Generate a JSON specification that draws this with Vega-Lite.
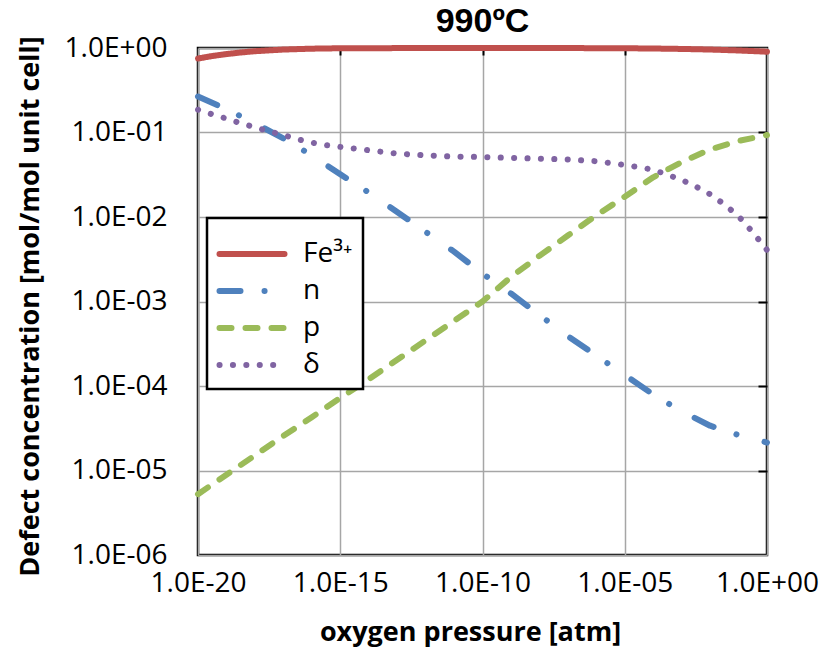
{
  "$schema": "https://vega.github.io/schema/vega-lite/v6.json",
  "width": 569,
  "height": 507,
  "autosize": {"type": "none"},
  "padding": {"left": 198, "top": 48, "right": 58, "bottom": 95},
  "background": "white",
  "title": {"text": "990ºC", "fontSize": 34, "font": "Liberation Sans", "fontWeight": "bold", "color": "black", "anchor": "middle", "baseline": "top", "offset": 0, "dy": 5},
  "config": {
    "font": "Open Sans",
    "view": {"stroke": "black", "strokeWidth": 2.5},
    "axis": {
      "labelFont": "Open Sans", "labelFontSize": 28, "labelColor": "black",
      "titleFont": "Open Sans", "titleFontSize": 27, "titleFontWeight": "bold", "titleColor": "black",
      "gridColor": "#a6a6a6", "gridWidth": 1.5, "domain": false, "ticks": false
    }
  },
  "data": {"values": [
    {"s": "Fe³⁺", "x": 1e-20, "y": 0.750},
    {"s": "Fe³⁺", "x": 3.16e-20, "y": 0.804},
    {"s": "Fe³⁺", "x": 1e-19, "y": 0.847},
    {"s": "Fe³⁺", "x": 3.16e-19, "y": 0.885},
    {"s": "Fe³⁺", "x": 1e-18, "y": 0.916},
    {"s": "Fe³⁺", "x": 1e-17, "y": 0.959},
    {"s": "Fe³⁺", "x": 1e-16, "y": 0.982},
    {"s": "Fe³⁺", "x": 1e-15, "y": 0.993},
    {"s": "Fe³⁺", "x": 1e-12, "y": 0.999},
    {"s": "Fe³⁺", "x": 1e-10, "y": 0.999},
    {"s": "Fe³⁺", "x": 1e-7, "y": 0.998},
    {"s": "Fe³⁺", "x": 1e-5, "y": 0.993},
    {"s": "Fe³⁺", "x": 1e-4, "y": 0.986},
    {"s": "Fe³⁺", "x": 1e-3, "y": 0.975},
    {"s": "Fe³⁺", "x": 1e-2, "y": 0.959},
    {"s": "Fe³⁺", "x": 1e-1, "y": 0.935},
    {"s": "Fe³⁺", "x": 1, "y": 0.904},

    {"s": "n", "x": 1e-20, "y": 0.2667},
    {"s": "n", "x": 1e-19, "y": 0.1888},
    {"s": "n", "x": 1e-18, "y": 0.1288},
    {"s": "n", "x": 1e-17, "y": 0.0851},
    {"s": "n", "x": 1e-16, "y": 0.0537},
    {"s": "n", "x": 1e-15, "y": 0.0320},
    {"s": "n", "x": 1e-14, "y": 0.0195},
    {"s": "n", "x": 1e-13, "y": 0.01148},
    {"s": "n", "x": 1e-12, "y": 0.00668},
    {"s": "n", "x": 1e-11, "y": 0.00389},
    {"s": "n", "x": 1e-10, "y": 0.00214},
    {"s": "n", "x": 1e-9, "y": 0.001245},
    {"s": "n", "x": 1e-8, "y": 0.000692},
    {"s": "n", "x": 1e-7, "y": 0.000389},
    {"s": "n", "x": 1e-6, "y": 0.000229},
    {"s": "n", "x": 1e-5, "y": 0.000135},
    {"s": "n", "x": 1e-4, "y": 0.0000794},
    {"s": "n", "x": 1e-3, "y": 0.0000501},
    {"s": "n", "x": 1e-2, "y": 0.0000339},
    {"s": "n", "x": 1e-1, "y": 0.0000263},
    {"s": "n", "x": 1, "y": 0.0000214},

    {"s": "p", "x": 1e-20, "y": 0.00000525},
    {"s": "p", "x": 1e-19, "y": 0.00000891},
    {"s": "p", "x": 1e-18, "y": 0.0000151},
    {"s": "p", "x": 1e-17, "y": 0.0000257},
    {"s": "p", "x": 1e-16, "y": 0.0000427},
    {"s": "p", "x": 1e-15, "y": 0.0000724},
    {"s": "p", "x": 1e-14, "y": 0.000120},
    {"s": "p", "x": 1e-13, "y": 0.000204},
    {"s": "p", "x": 1e-12, "y": 0.000347},
    {"s": "p", "x": 1e-11, "y": 0.000589},
    {"s": "p", "x": 1e-10, "y": 0.00100},
    {"s": "p", "x": 1e-9, "y": 0.00195},
    {"s": "p", "x": 1e-8, "y": 0.00347},
    {"s": "p", "x": 1e-7, "y": 0.00603},
    {"s": "p", "x": 1e-6, "y": 0.01047},
    {"s": "p", "x": 1e-5, "y": 0.01738},
    {"s": "p", "x": 1e-4, "y": 0.0295},
    {"s": "p", "x": 1e-3, "y": 0.0447},
    {"s": "p", "x": 1e-2, "y": 0.0631},
    {"s": "p", "x": 1e-1, "y": 0.0794},
    {"s": "p", "x": 1, "y": 0.0933},

    {"s": "δ", "x": 1e-20, "y": 0.186},
    {"s": "δ", "x": 3.16e-20, "y": 0.164},
    {"s": "δ", "x": 1e-19, "y": 0.146},
    {"s": "δ", "x": 3.16e-19, "y": 0.129},
    {"s": "δ", "x": 1e-18, "y": 0.115},
    {"s": "δ", "x": 3.16e-18, "y": 0.1035},
    {"s": "δ", "x": 1e-17, "y": 0.0933},
    {"s": "δ", "x": 3.16e-17, "y": 0.0832},
    {"s": "δ", "x": 1e-16, "y": 0.0759},
    {"s": "δ", "x": 3.16e-16, "y": 0.0708},
    {"s": "δ", "x": 1e-15, "y": 0.0676},
    {"s": "δ", "x": 1e-14, "y": 0.0617},
    {"s": "δ", "x": 1e-13, "y": 0.0562},
    {"s": "δ", "x": 1e-12, "y": 0.0537},
    {"s": "δ", "x": 1e-11, "y": 0.0519},
    {"s": "δ", "x": 1e-10, "y": 0.0513},
    {"s": "δ", "x": 1e-9, "y": 0.0501},
    {"s": "δ", "x": 1e-8, "y": 0.0490},
    {"s": "δ", "x": 1e-7, "y": 0.0479},
    {"s": "δ", "x": 1e-6, "y": 0.0457},
    {"s": "δ", "x": 1e-5, "y": 0.0412},
    {"s": "δ", "x": 3.16e-5, "y": 0.0389},
    {"s": "δ", "x": 1e-4, "y": 0.0363},
    {"s": "δ", "x": 3.16e-4, "y": 0.0316},
    {"s": "δ", "x": 1e-3, "y": 0.0275},
    {"s": "δ", "x": 3.16e-3, "y": 0.0229},
    {"s": "δ", "x": 1e-2, "y": 0.0186},
    {"s": "δ", "x": 3.16e-2, "y": 0.0141},
    {"s": "δ", "x": 1e-1, "y": 0.0102},
    {"s": "δ", "x": 3.16e-1, "y": 0.0066},
    {"s": "δ", "x": 1, "y": 0.00407}
  ]},
  "resolve": {"axis": {"x": "independent", "y": "independent"}},
  "layer": [
    {
      "mark": {"type": "line", "strokeWidth": 6, "strokeCap": "round", "strokeJoin": "round", "clip": false},
      "encoding": {
        "x": {"field": "x", "type": "quantitative",
          "scale": {"type": "log", "domain": [1e-20, 1], "nice": false},
          "axis": {"orient": "bottom", "values": [1e-20, 1e-15, 1e-10, 1e-5, 1], "labelPadding": 14, "labelOverlap": false, "labelBound": false, "labelFlush": false,
            "labelExpr": "'1.0E' + (round(log(datum.value)/LN10) < 0 ? '-' : '+') + format(abs(round(log(datum.value)/LN10)), '02d')",
            "title": "oxygen pressure [atm]", "titleX": 272, "titleY": 85, "titleBaseline": "alphabetic", "titleAlign": "center"}},
        "y": {"field": "y", "type": "quantitative",
          "scale": {"type": "log", "domain": [1e-6, 1], "nice": false},
          "axis": {"orient": "left", "values": [1e-6, 1e-5, 1e-4, 1e-3, 1e-2, 1e-1, 1], "labelPadding": 31, "labelOverlap": false, "labelBound": false, "labelFlush": false,
            "labelExpr": "'1.0E' + (round(log(datum.value)/LN10) < 0 ? '-' : '+') + format(abs(round(log(datum.value)/LN10)), '02d')",
            "title": "Defect concentration [mol/mol unit cell]", "titleX": -160, "titleY": 258, "titleBaseline": "alphabetic", "titleAlign": "center", "titleAngle": 270}},
        "color": {"field": "s", "type": "nominal",
          "scale": {"domain": ["Fe³⁺", "n", "p", "δ"], "range": ["#C0504D", "#4F81BD", "#9BBB59", "#8064A2"]},
          "legend": {"title": " ", "titleFontSize": 8, "titlePadding": 4, "orient": "none", "legendX": 9, "legendY": 170,
            "fillColor": "white", "strokeColor": "black", "padding": 10,
            "symbolType": "M-5,0H5", "symbolSize": 169, "symbolStrokeWidth": 6, "symbolOffset": 21,
            "labelFont": "Open Sans", "labelFontSize": 28, "labelColor": "black", "labelOffset": 37, "rowPadding": 9,
            "encode": {"symbols": {"update": {"strokeCap": {"value": "round"}}}, "legend": {"update": {"strokeWidth": {"value": 2.5}}}}}},
        "strokeDash": {"field": "s", "type": "nominal",
          "scale": {"domain": ["Fe³⁺", "n", "p", "δ"], "range": [[1, 0], [21, 24, 0.1, 29], [12, 14], [0.1, 13.3]]},
          "legend": {"title": " ", "titleFontSize": 8, "titlePadding": 4, "orient": "none", "legendX": 9, "legendY": 170,
            "fillColor": "white", "strokeColor": "black", "padding": 10,
            "symbolType": "M-5,0H5", "symbolSize": 169, "symbolStrokeWidth": 6, "symbolOffset": 21,
            "labelFont": "Open Sans", "labelFontSize": 28, "labelColor": "black", "labelOffset": 37, "rowPadding": 9,
            "encode": {"symbols": {"update": {"strokeCap": {"value": "round"}}}, "legend": {"update": {"strokeWidth": {"value": 2.5}}}}}}
      }
    },
    {
      "mark": {"type": "line", "strokeOpacity": 0, "clip": false},
      "encoding": {
        "x": {"field": "x", "type": "quantitative",
          "axis": {"orient": "top", "values": [1e-15, 1e-10, 1e-5], "labels": false, "ticks": true, "tickSize": -7, "tickWidth": 2, "tickColor": "black", "grid": false, "title": null, "domain": false}},
        "y": {"field": "y", "type": "quantitative",
          "axis": {"orient": "right", "values": [1e-5, 1e-4, 1e-3, 1e-2, 1e-1], "labels": false, "ticks": true, "tickSize": -9, "tickWidth": 2, "tickColor": "black", "grid": false, "title": null, "domain": false}},
        "detail": {"field": "s", "type": "nominal"}
      }
    }
  ]
}
